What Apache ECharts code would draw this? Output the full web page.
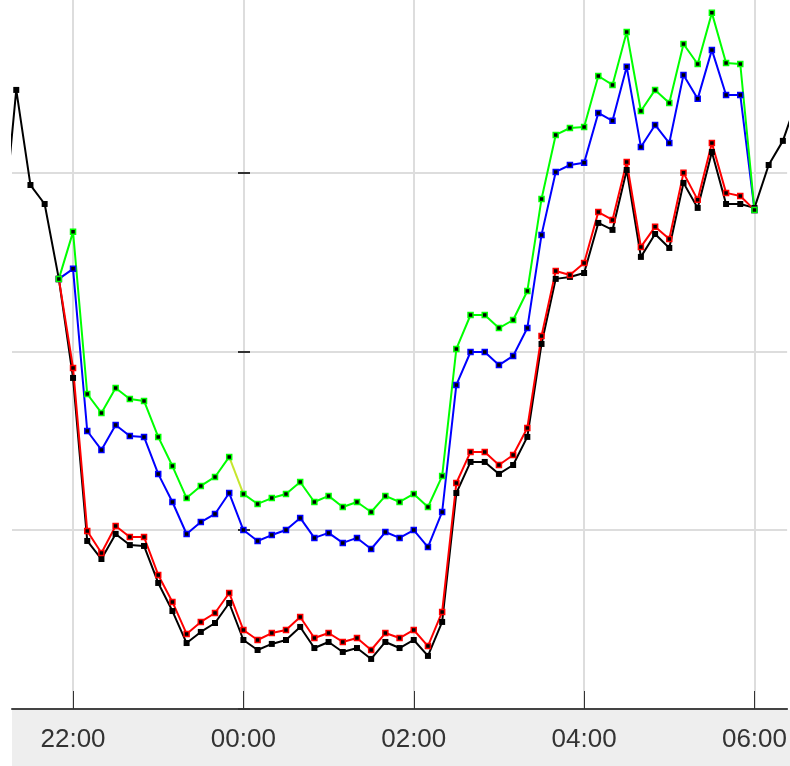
<!DOCTYPE html>
<html>
<head>
<meta charset="utf-8">
<script src="https://cdn.jsdelivr.net/npm/echarts@6/dist/echarts.min.js"></script>
<style>
  html, body { margin: 0; padding: 0; background: #fff; }
  #chart { width: 790px; height: 766px; }
</style>
</head>
<body>
<div id="chart"></div>
<script>
// x values are minutes from midnight of the first day (22:00 = 1320, 06:00 next day = 1800)
var stepMin = 10;
var xMin = 1277, xMax = 1823;
var tickMinutes = [1320, 1440, 1560, 1680, 1800];
var yMax = 396.6;
var yTicks = [0, 100, 200, 300];

var blackStart = 1270;   // 21:10
var colourStart = 1310;  // 21:50

var blackValues = [262.4, 346.3, 293.1, 282.5,
    240.6, 185.2, 94.0, 83.9, 97.9, 91.7, 91.2, 70.5, 54.8, 36.9, 43.1, 48.1, 59.3,
    38.6, 33.0, 36.4, 38.6, 45.9, 34.1, 37.5, 31.9, 34.1, 28.0, 37.5, 34.1,
    38.6, 29.7, 48.7, 120.8, 138.2, 138.2, 131.5, 136.5, 152.2, 204.2, 240.6, 241.7,
    243.9, 271.9, 268.0, 301.5, 252.9, 265.7, 257.9, 294.3, 280.3, 311.6, 282.5, 282.5,
    280.3, 304.3, 317.8, 340.7];

var redValues = [240.6, 190.8, 99.6, 87.3, 102.4, 96.2, 96.2, 75.0, 59.9, 42.0, 48.7, 53.7, 64.9,
    44.2, 38.6, 42.5, 44.2, 51.5, 39.7, 42.5, 37.5, 39.7, 33.0, 42.5, 39.7,
    44.2, 35.2, 54.3, 126.4, 143.8, 143.8, 136.5, 142.1, 157.2, 208.7, 245.0, 242.8,
    249.5, 278.0, 273.6, 306.0, 258.5, 269.7, 262.9, 299.9, 284.8, 316.6, 288.7, 287.0,
    279.2];

var blueValues = [240.6, 246.2, 155.5, 144.9, 158.9, 152.7, 152.2, 131.5, 115.8, 97.9, 104.6, 109.1, 120.8,
    100.1, 94.0, 97.3, 100.1, 106.9, 95.7, 98.5, 92.9, 95.7, 89.5, 99.0, 95.7,
    100.1, 90.6, 110.2, 181.3, 199.7, 199.7, 192.4, 197.5, 213.1, 265.2, 300.4, 304.3,
    305.5, 333.4, 329.0, 359.2, 314.4, 326.7, 316.6, 354.7, 341.3, 368.7, 343.5, 343.5,
    279.2];

var greenValues = [240.6, 266.9, 176.2, 165.6, 179.6, 173.4, 172.3, 152.2, 135.9, 118.0, 124.8, 129.8, 141.0,
    120.3, 114.7, 118.0, 120.3, 127.0, 115.8, 119.2, 113.0, 115.8, 110.2, 119.2, 115.8,
    120.3, 113.0, 130.3, 201.4, 220.4, 220.4, 213.1, 217.6, 233.8, 285.3, 321.1, 325.0,
    325.6, 354.1, 349.1, 378.7, 334.5, 346.3, 339.0, 372.0, 360.8, 389.4, 361.4, 360.8,
    279.2];

// the green segment 23:50 -> 00:00 is drawn in yellow-green
var yellowFrom = 12, yellowTo = 13;

function pad(n) { return (n < 10 ? '0' : '') + n; }
function fmtMinutes(v) {
    var m = ((Math.round(v) % 1440) + 1440) % 1440;
    return pad(Math.floor(m / 60)) + ':' + pad(m % 60);
}
function toPoints(start, values, offset) {
    offset = offset || 0;
    return values.map(function(v, i) { return [start + (i + offset) * stepMin, v]; });
}

function lineSeries(name, color, data, markers) {
    return {
        name: name,
        type: 'line',
        data: data,
        symbol: markers ? 'rect' : 'none',
        symbolSize: name === 'black' ? 6 : 5,
        showAllSymbol: true,
        lineStyle: { color: color, width: 2 },
        itemStyle: name === 'black'
            ? { color: '#000' }
            : { color: '#000', borderColor: color, borderWidth: 1.5 },
        emphasis: { disabled: true }
    };
}

var chart = echarts.init(document.getElementById('chart'));
chart.setOption({
    animation: false,
    backgroundColor: '#ffffff',
    graphic: [{
        type: 'rect',
        z: -1,
        shape: { x: 12, y: 710, width: 778, height: 56 },
        style: { fill: '#eeeeee' }
    }],
    grid: { left: 12, right: 0, top: 0, bottom: 57 },
    xAxis: {
        type: 'value',
        min: xMin,
        max: xMax,
        axisLine: { lineStyle: { color: '#444', width: 2 } },
        axisTick: { inside: true, length: 18, customValues: tickMinutes, lineStyle: { color: '#333', width: 1 } },
        axisLabel: {
            customValues: tickMinutes,
            formatter: fmtMinutes,
            fontFamily: 'Liberation Sans',
            fontSize: 26,
            color: '#333',
            margin: 18
        },
        splitLine: { show: true, lineStyle: { color: '#dddddd', width: 2 } }
    },
    yAxis: {
        type: 'value',
        min: 0,
        max: yMax,
        position: 'left',
        offset: -238,
        axisLine: { show: false },
        axisTick: { show: true, length: 12, customValues: yTicks, lineStyle: { color: '#333', width: 2 } },
        axisLabel: { show: false },
        splitLine: { show: true, lineStyle: { color: '#dddddd', width: 2 } }
    },
    series: [
        lineSeries('black', '#000000', toPoints(blackStart, blackValues), true),
        lineSeries('red', '#ff0000', toPoints(colourStart, redValues), true),
        lineSeries('blue', '#0000ff', toPoints(colourStart, blueValues), true),
        lineSeries('yellow', '#c6e62e', toPoints(colourStart, greenValues.slice(yellowFrom, yellowTo + 1), yellowFrom), false),
        lineSeries('green', '#00ff00', toPoints(colourStart, greenValues.slice(0, yellowFrom + 1)), true),
        lineSeries('green2', '#00ff00', toPoints(colourStart, greenValues.slice(yellowTo), yellowTo), true)
    ]
});
</script>
</body>
</html>
